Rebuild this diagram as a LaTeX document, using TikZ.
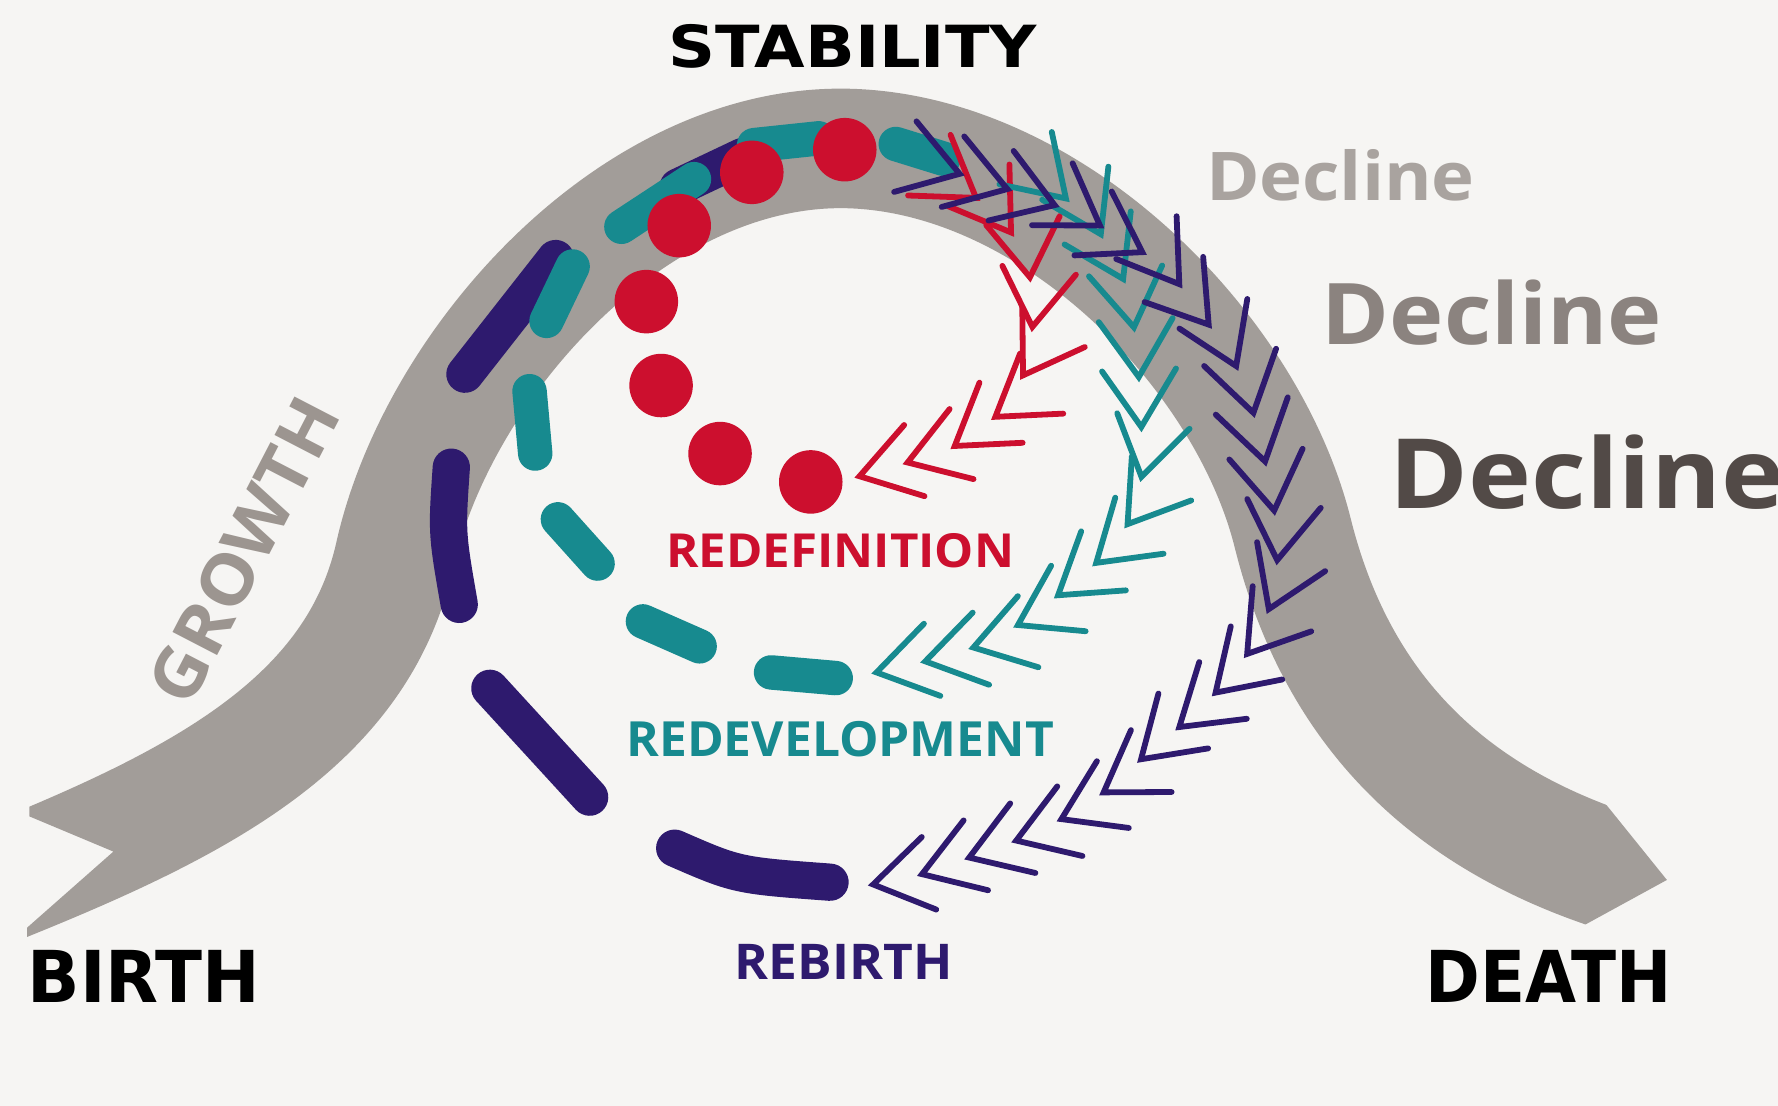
\documentclass[tikz,border=0pt]{standalone}
\usepackage{fontspec}
\setmainfont{Open Sans}
\newfontfamily\heavy{DejaVu Sans}
\usetikzlibrary{decorations.markings}
\newlength\pu \setlength\pu{0.01134cm}
\definecolor{bgc}{HTML}{F6F5F3}
\definecolor{bandc}{HTML}{A29D99}
\definecolor{redc}{HTML}{CC0F2E}
\definecolor{tealc}{HTML}{178A8F}
\definecolor{navyc}{HTML}{2E1A6E}
\definecolor{decA}{HTML}{A9A39F}
\definecolor{decB}{HTML}{8B837F}
\definecolor{decC}{HTML}{524A47}
\definecolor{growc}{HTML}{9C9590}
\tikzset{
  chev/.style={decorate, decoration={markings,
      mark=between positions 0 and 0.99 step 0.5cm with {
        \draw[#1, line width=1.65pt, line cap=round, line join=miter]
          (0.57cm,0.37cm) -- (0,0) -- (0.57cm,-0.37cm);}}},
  navydash/.style={navyc, line width=10.6pt, line cap=round},
  tealdash/.style={tealc, line width=9.8pt, line cap=round},
  reddot/.style={fill=redc},
  lbl/.style={inner sep=0pt, anchor=center}
}
\begin{document}
\begin{tikzpicture}[x=0.01134cm, y=-0.01134cm]
\useasboundingbox (0,0) rectangle (1568,975);
\fill[bgc] (0,0) rectangle (1568,975);

% gray band
\begin{scope}
\clip (26,-50) -- (1370,-50) -- (1370,652) -- (1470,776) -- (1300,869) -- (1300,1000)
      -- (24,1000) -- (24,818) -- (100,751) -- (26,720) -- cycle;
\draw[bandc, line width=34pt]
  (-40,795) .. controls (150,720) and (312,650) .. (348,490)
  .. controls (386,320) and (560,125) .. (750,131)
  .. controls (930,137) and (1100,310) .. (1140,470)
  .. controls (1180,630) and (1280,720) .. (1420,767)
  -- (1540,808);
\end{scope}

% navy dashes
\draw[navydash] (598,165) -- (655,138);
\draw[navydash] (490,228) -- (410,330);
\draw[navydash] (398,412) .. controls (394,470) .. (405,533);
\draw[navydash] (432,607) -- (520,703);
\draw[navydash] (595,748) .. controls (650,772) .. (732,778);

% teal dashes
\draw[tealdash] (548,200) -- (612,158);
\draw[tealdash] (665,128) -- (722,122);
\draw[tealdash] (790,127) -- (832,140);
\draw[tealdash] (505,235) -- (482,283);
\draw[tealdash] (467,345) -- (472,400);
\draw[tealdash] (492,458) -- (527,497);
\draw[tealdash] (567,548) -- (617,570);
\draw[tealdash] (680,593) -- (737,598);

% red dots
\foreach \p in {(745,132),(663,152),(599,199),(570,266),(583,340),(635,400),(715,425)}
  \fill[reddot] \p circle[radius=28];

% chevron trails (drawn from the arrow end back to the start)
\path[chev=redc] (758,420) -- (800,408) -- (841,394) -- (880,366) -- (906,325) -- (912,275)
  -- (906,226) -- (880,188) -- (840,160);
\path[chev=tealc] (773,593) -- (817,583) -- (862,570) -- (900,550) -- (937,522) -- (973,491)
  -- (999,456) -- (1008,414) -- (1006,364) -- (1003,309) -- (995,255) -- (970,205)
  -- (935,170);
\path[chev=navyc] (770,780) -- (810,772) -- (850,758) -- (897,741) -- (941,720) -- (976,697)
  -- (1008,668) -- (1045,637) -- (1078,605) -- (1105,570) -- (1122,530) -- (1128,480)
  -- (1120,425) -- (1102,350) -- (1085,311) -- (1058,276) -- (1029,235) -- (993,214)
  -- (958,191) -- (911,174) -- (861,158) -- (820,145);

% labels
\node[lbl] (stab) at (752,41) {\resizebox{325\pu}{38\pu}{\heavy\bfseries STABILITY}};
\node[lbl] (birth) at (127,861) {\resizebox{205\pu}{46\pu}{\heavy\bfseries BIRTH}};
\node[lbl] (death) at (1366,861) {\resizebox{217\pu}{46\pu}{\heavy\bfseries DEATH}};
\node[lbl, anchor=south west, text=decA] (dec1) at (1063,178) {\resizebox{237\pu}{45\pu}{\bfseries Decline}};
\node[lbl, anchor=south west, text=decB] (dec2) at (1165,305) {\resizebox{300\pu}{57\pu}{\bfseries Decline}};
\node[lbl, anchor=south west, text=decC] (dec3) at (1225,450) {\resizebox{348\pu}{65\pu}{\bfseries Decline}};
\node[lbl, rotate=62.6, text=growc] (growth) at (215,485) {\resizebox{293\pu}{45\pu}{\bfseries GROWTH}};
\node[lbl, text=redc] (redef) at (741,486) {\resizebox{307\pu}{30\pu}{\bfseries REDEFINITION}};
\node[lbl, text=tealc] (redev) at (741,652) {\resizebox{377\pu}{31\pu}{\bfseries REDEVELOPMENT}};
\node[lbl, text=navyc] (rebirth) at (744,848) {\resizebox{192\pu}{31\pu}{\bfseries REBIRTH}};
\end{tikzpicture}
\end{document}
